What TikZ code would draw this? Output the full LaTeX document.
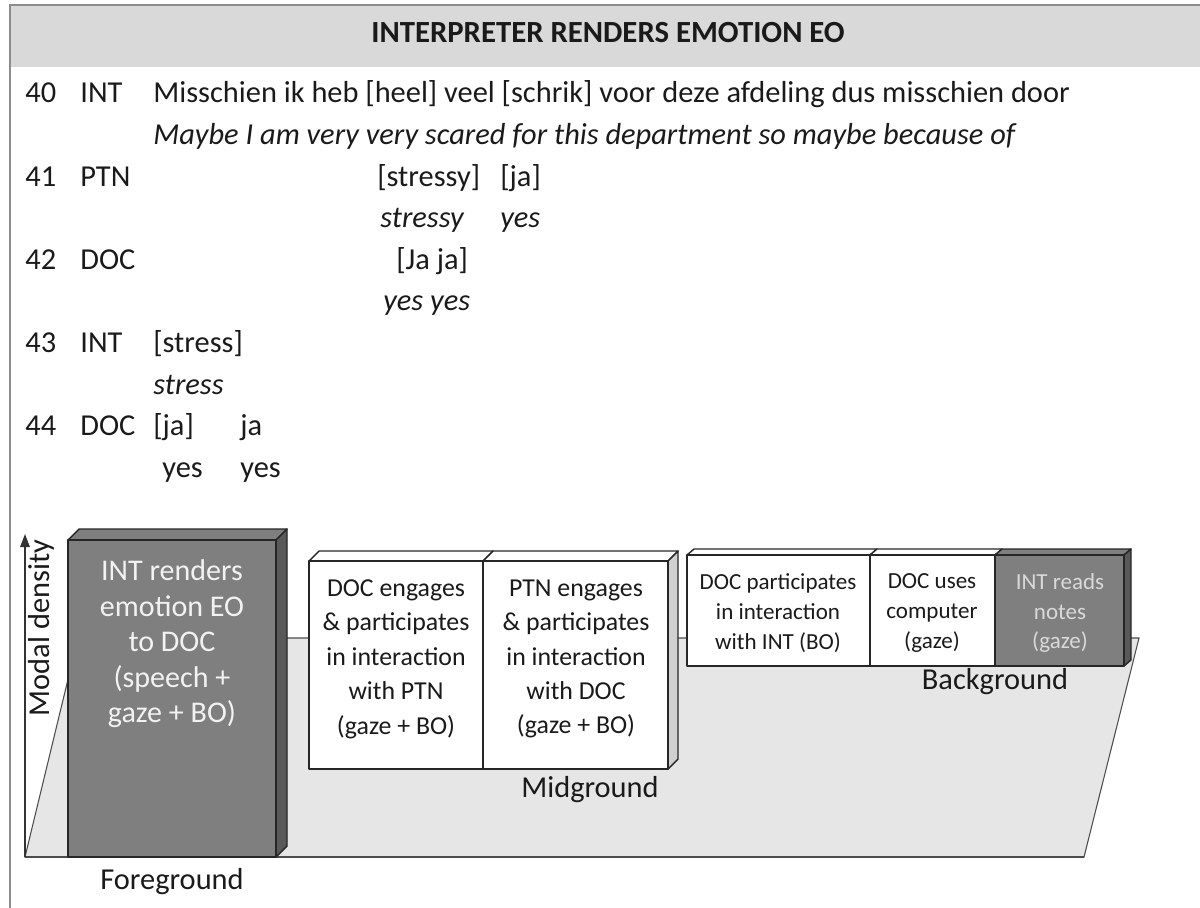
\documentclass[tikz,border=0pt]{standalone}
\usepackage{fontspec}
\setmainfont{Carlito}
\usetikzlibrary{arrows.meta}

\definecolor{hdrgray}{HTML}{D9D9D9}
\definecolor{framegray}{HTML}{8C8C8C}
\definecolor{floorgray}{HTML}{E6E6E6}
\definecolor{boxdark}{HTML}{7F7F7F}
\definecolor{sidedark}{HTML}{595959}
\definecolor{sidelight}{HTML}{D0D0D0}
\definecolor{inklight}{HTML}{F2F2F2}
\definecolor{ink}{HTML}{1A1A1A}

\tikzset{
    turn/.style = {anchor=base west, inner sep=0pt, text=ink, font=\fontsize{17.3}{20}\selectfont},
    gloss/.style = {turn, font=\fontsize{17.3}{20}\selectfont\itshape},
    title/.style = {inner sep=0pt, text=ink, font=\fontsize{17.5}{20}\selectfont\bfseries},
    fgtext/.style = {align=center, inner sep=0pt, text=inklight, font=\fontsize{17.1}{20.2}\selectfont},
    mgtext/.style = {align=center, inner sep=0pt, text=ink, font=\fontsize{14.7}{19.6}\selectfont},
    bgtext/.style = {align=center, inner sep=0pt, text=ink, font=\fontsize{13.1}{17}\selectfont},
    zone/.style = {inner sep=0pt, text=ink, font=\fontsize{17.3}{20}\selectfont},
    edge/.style = {draw=black!85, line width=0.8pt, line join=round}
}

\begin{document}
\begin{tikzpicture}[x=0.2mm, y=-0.2mm]
    \useasboundingbox (0,0) rectangle (1200,908);
    % header of the excerpt
    \fill[hdrgray] (10,5) rectangle (1200,67);
    \draw[framegray, line width=0.8pt] (1200,5) -- (10,5) -- (10,908);
    \node[title] (hdr) at (608,33) {INTERPRETER RENDERS EMOTION EO};

    % transcript
    \foreach \n/\who/\row in {40/INT/0, 41/PTN/2, 42/DOC/4, 43/INT/6, 44/DOC/8} {
        \node[turn] (num\n) at (25,103+41.6*\row) {\n};
        \node[turn] (who\n) at (80,103+41.6*\row) {\who};
    }
    \node[turn] (say40) at (153,103) {Misschien ik heb [heel] veel [schrik] voor deze afdeling dus misschien door};
    \node[gloss] (tr40) at (153,144.6) {Maybe I am very very scared for this department so maybe because of};
    \node[turn] (say41a) at (377,186.2) {[stressy]};
    \node[turn] (say41b) at (500,186.2) {[ja]};
    \node[gloss] (tr41a) at (380,227.8) {stressy};
    \node[gloss] (tr41b) at (500,227.8) {yes};
    \node[turn] (say42) at (396,269.4) {[Ja ja]};
    \node[gloss] (tr42) at (383,311) {yes yes};
    \node[turn] (say43) at (153,352.6) {[stress]};
    \node[gloss] (tr43) at (153,394.2) {stress};
    \node[turn] (say44a) at (153,435.8) {[ja]};
    \node[turn] (say44b) at (240,435.8) {ja};
    \node[turn] (tr44a) at (162,477.4) {yes};
    \node[turn] (tr44b) at (240,477.4) {yes};

    % floor of the model
    \draw[fill=floorgray, draw=black!70, line width=0.6pt] (25,857) -- (1084,857) -- (1139,638) -- (78,638) -- cycle;
    \draw[black!70, line width=1.2pt] (25,857) -- (1084,857);
    \coordinate (origin) at (25,857);
    \coordinate (ytop) at (25,534);
    \draw[black!80, line width=0.8pt, -{Triangle[length=2.6mm, width=1.9mm]}] (origin) -- (ytop);
    \node[zone, rotate=90] (mdens) at (41,628) {Modal density};

    % foreground
    \draw[edge, fill=boxdark] (68,540) -- (79,529) -- (287,529) -- (276,540) -- cycle;
    \draw[edge, fill=sidedark] (276,540) -- (287,529) -- (287,846) -- (276,857) -- cycle;
    \draw[edge, fill=boxdark] (68,540) rectangle (276,857);
    \node[fgtext] (fg) at (172,644) {INT renders\\emotion EO\\to DOC\\(speech +\\gaze + BO)};
    \node[zone] (fglab) at (172,882) {Foreground};

    % midground
    \draw[edge, fill=white] (309,561) -- (319,551) -- (493,551) -- (483,561) -- cycle;
    \draw[edge, fill=white] (483,561) -- (493,551) -- (678,551) -- (668,561) -- cycle;
    \draw[edge, fill=sidelight] (668,561) -- (678,551) -- (678,759) -- (668,769) -- cycle;
    \draw[edge, fill=white] (309,561) rectangle (483,769);
    \draw[edge, fill=white] (483,561) rectangle (668,769);
    \node[mgtext] (mg1) at (396,659) {DOC engages\\\& participates\\in interaction\\with PTN\\(gaze + BO)};
    \node[mgtext] (mg2) at (576,659) {PTN engages\\\& participates\\in interaction\\with DOC\\(gaze + BO)};
    \node[zone] (mglab) at (590,790) {Midground};

    % background
    \draw[edge, fill=white] (687,555) -- (694,549) -- (877,549) -- (870,555) -- cycle;
    \draw[edge, fill=white] (870,555) -- (877,549) -- (1002,549) -- (995,555) -- cycle;
    \draw[edge, fill=boxdark] (995,555) -- (1002,549) -- (1131,549) -- (1124,555) -- cycle;
    \draw[edge, fill=sidedark] (1124,555) -- (1131,549) -- (1131,660) -- (1124,666) -- cycle;
    \draw[edge, fill=white] (687,555) rectangle (870,666);
    \draw[edge, fill=white] (870,555) rectangle (995,666);
    \draw[edge, fill=boxdark] (995,555) rectangle (1124,666);
    \node[bgtext] (bg1) at (778,613) {DOC participates\\in interaction\\with INT (BO)};
    \node[bgtext] (bg2) at (932,613) {DOC uses\\computer\\(gaze)};
    \node[bgtext, text=black!15] (bg3) at (1060,613) {INT reads\\notes\\(gaze)};
    \node[zone] (bglab) at (995,682) {Background};
\end{tikzpicture}
\end{document}
